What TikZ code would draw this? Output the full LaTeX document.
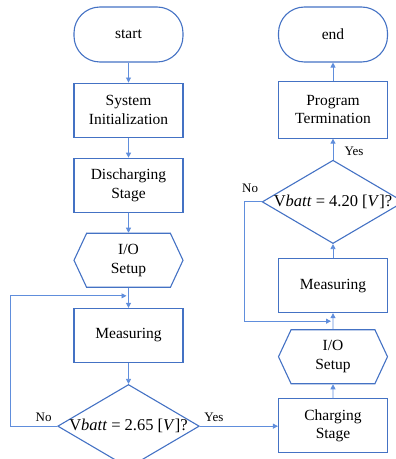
\documentclass[tikz,border=0pt]{standalone}
\usepackage{fontspec}
\setmainfont{Liberation Serif}
\usetikzlibrary{shapes.geometric,shapes.symbols,arrows.meta,positioning,calc}
\definecolor{flowblue}{RGB}{68,114,196}
\definecolor{linkblue}{RGB}{96,142,220}

\begin{document}
\begin{tikzpicture}[
  x=1pt, y=1pt,
  node distance=20pt,
  term/.style={draw=flowblue, line width=1.1pt, rounded corners=26pt, minimum width=109pt, minimum height=55pt, font=\fontsize{15.5}{18.5}\selectfont},
  proc/.style={draw=flowblue, line width=1.1pt, minimum width=109pt, minimum height=54pt, align=center, font=\fontsize{15.5}{18.5}\selectfont},
  prep/.style={draw=flowblue, line width=1.1pt, signal, signal to=west and east, signal pointer angle=130, minimum width=109pt, minimum height=54pt, align=center, font=\fontsize{15.5}{18.5}\selectfont},
  decision/.style={draw=flowblue, line width=1.1pt, diamond, aspect=1.7, inner sep=0pt, minimum width=136pt, minimum height=81pt, font=\fontsize{16.5}{19}\selectfont},
  arr/.style={-{Triangle[length=5pt,width=5pt]}, linkblue, line width=0.8pt},
  lbl/.style={font=\fontsize{13}{15}\selectfont}
]
  \useasboundingbox (0,0) rectangle (396,459);

  % discharging side
  \node[term] (start) at (128.5,424.5) {start};
  \node[proc, below=of start] (init) {System\\Initialization};
  \node[proc, below=of init] (dis) {Discharging\\Stage};
  \node[prep, below=of dis] (io1) {I/O\\Setup};
  \node[proc, below=of io1] (meas1) {Measuring};
  \node[decision, below=21pt of meas1] (chk1) {V\textit{batt} = 2.65 [\textit{V}]?};

  % charging side
  \node[term] (end) at (333,424.5) {end};
  \node[proc, minimum height=57pt, below=18pt of end] (stop) {Program\\Termination};
  \node[decision, below=21pt of stop] (chk2) {V\textit{batt} = 4.20 [\textit{V}]?};
  \node[proc, below=14pt of chk2] (meas2) {Measuring};
  \node[prep, below=16pt of meas2] (io2) {I/O\\Setup};
  \node[proc, below=14pt of io2] (chg) {Charging\\Stage};

  \coordinate (j1) at ($(io1.south)!0.4!(meas1.north)$);
  \coordinate (j2) at ($(meas2.south)!0.5!(io2.north)$);

  \draw[arr] (start) -- (init);
  \draw[arr] (init) -- (dis);
  \draw[arr] (dis) -- (io1);
  \draw[arr] (io1) -- (meas1);
  \draw[arr] (meas1) -- (chk1);
  \draw[arr, shorten >=2pt] (chk1.west) -- ++(-47,0) |- (j1);
  \draw[arr] (chk1.east) -- (chk1.east -| chg.west);

  \draw[arr] (chg) -- (io2);
  \draw[arr] (io2) -- (meas2);
  \draw[arr] (meas2) -- (chk2);
  \draw[arr] (chk2) -- (stop);
  \draw[arr] (stop) -- (end);
  \draw[arr, shorten >=2pt] (chk2.west) -- ++(-17,0) |- (j2);

  \node[lbl, above left=1pt and 2pt of chk1.west] (no1) {No};
  \node[lbl, above right=1pt and 1pt of chk1.east] (yes1) {Yes};
  \node[lbl, above right=0pt and 8pt of chk2.north] (yes2) {Yes};
  \node[lbl, above left=6pt and 0pt of chk2.west] (no2) {No};
\end{tikzpicture}
\end{document}
